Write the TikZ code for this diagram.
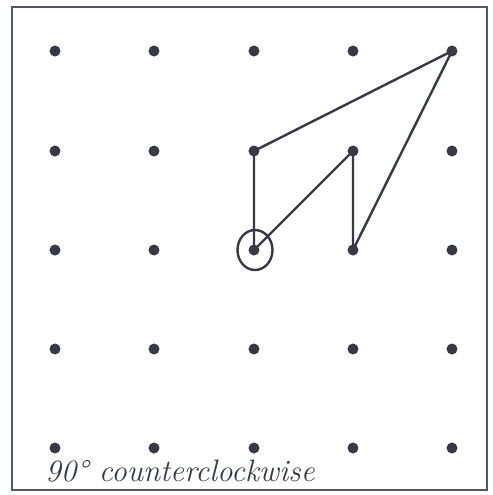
\documentclass[tikz,border=0pt]{standalone}
\usetikzlibrary{shapes.geometric}
\definecolor{ink}{RGB}{55,58,68}
\begin{document}
\begin{tikzpicture}[x=0.5pt,y=-0.5pt,
  gdot/.style={circle,fill=ink,inner sep=0pt,minimum size=5.5pt},
  edge/.style={draw=ink,line width=1.2pt,line join=round,line cap=round},
  frame/.style={draw=ink!85,line width=1.1pt}]
\useasboundingbox (0,0) rectangle (493,495);
\draw[frame] (12,7) rectangle (487,490);
\foreach \i/\x in {1/55,2/154,3/254,4/353,5/452}{
  \foreach \j/\y in {1/51,2/151,3/250,4/349,5/448}{
    \node[gdot] (d\i\j) at (\x,\y) {};
  }
}
\draw[edge] (d32.center) -- (d51.center) -- (d43.center) -- (d42.center) -- (d33.center) -- cycle;
\node[ellipse,draw=ink,line width=1.2pt,minimum width=17.5pt,minimum height=20pt,inner sep=0pt] (c) at (255,250) {};
\node[anchor=base west,inner sep=0pt,text=ink] (lbl) at (45,481) {\fontsize{15.5}{17}\selectfont\itshape 90\textdegree\ counterclockwise};
\end{tikzpicture}
\end{document}
